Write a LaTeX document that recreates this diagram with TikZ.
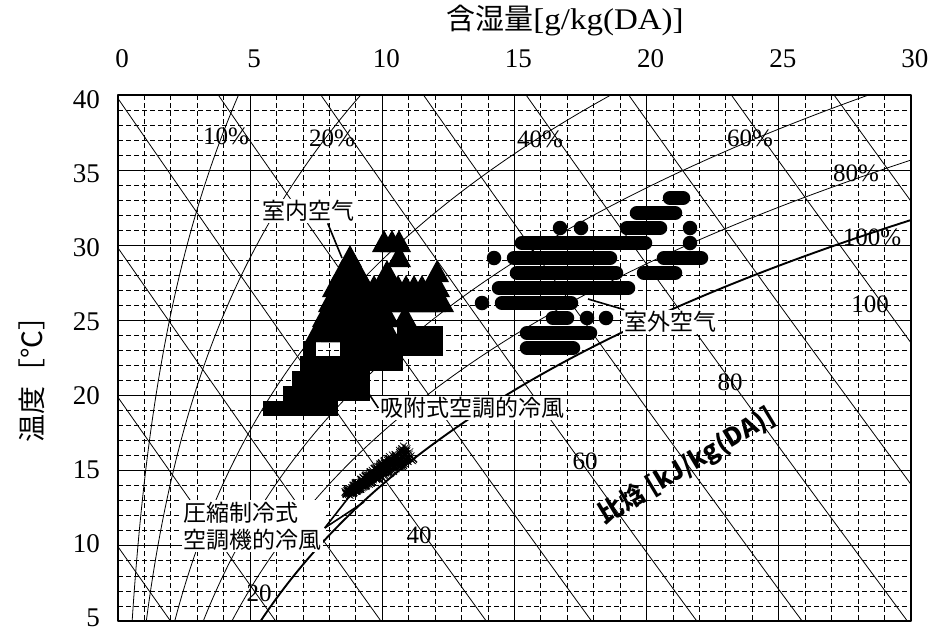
\documentclass[tikz,border=0pt]{standalone}
\usepackage{fontspec}
\setmainfont{Liberation Serif}
\newfontfamily\cjk{Noto Sans CJK JP}
\newcommand\tri[2]{\fill (#1-12,#2+9) -- (#1+12,#2+9) -- (#1,#2-13) -- cycle;}
\begin{document}
\begin{tikzpicture}[x=1pt,y=-1pt,line join=round,
  declare function={
    ps(\t)=0.61094*exp(17.625*\t/(\t+243.04));
    wr(\t,\p)=622*\p*ps(\t)/(101.325-\p*ps(\t));
    px(\w)=118+26.43*\w;
    py(\t)=696.15-15.03*\t;
  },
  gdash/.style={line width=0.8pt,dash pattern=on 5pt off 3pt},
  gsolid/.style={line width=1.1pt},
  chl/.style={line width=0.8pt},
  sat/.style={line width=1.9pt},
  tick/.style={font=\fontsize{27}{27}\selectfont,inner sep=0pt},
  pct/.style={font=\fontsize{25}{25}\selectfont,inner sep=0pt},
  ann/.style={font=\cjk\fontsize{23}{27}\selectfont,fill=white,inner sep=1.5pt,align=left},
  lead/.style={line width=1.6pt},
  crow/.style={line width=14.5pt,line cap=round},
  xm/.style={line width=0.7pt}]
\useasboundingbox (0,0) rectangle (932,635);
\fill[white] (0,0) rectangle (932,635);
% grid
\foreach \w in {1,...,29}{
  \pgfmathtruncatemacro\m{mod(\w,5)}
  \ifnum\m=0 \draw[gsolid] ({px(\w)},95) -- ({px(\w)},621);
  \else \draw[gdash] ({px(\w)},95) -- ({px(\w)},621); \fi}
\foreach \t in {6,...,39}{
  \pgfmathtruncatemacro\m{mod(\t,5)}
  \ifnum\m=0 \draw[gsolid] (118,{py(\t)}) -- (911,{py(\t)});
  \else \draw[gdash] (118,{py(\t)}) -- (911,{py(\t)}); \fi}
% psychrometric lines
\begin{scope}
\clip (118,95) rectangle (911,621);
\foreach \p in {0.1,0.2,0.4,0.6,0.8}{
  \draw[chl] plot[domain=5:42,samples=60,smooth,variable=\t] ({px(wr(\t,\p))},{py(\t)});}
\draw[sat] plot[domain=5:33,samples=60,smooth,variable=\t] ({px(wr(\t,1))},{py(\t)});
\foreach \h in {10,20,...,110}{
  \draw[chl] plot[domain=0:30,samples=7,smooth,variable=\w] ({px(\w)},{py((\h-2.501*\w)/(1.006+0.00186*\w))});}
\end{scope}
\draw[line width=2.8pt] (118,95) rectangle (911,621);
% axis labels
\foreach \w in {0,5,...,30}{\node[tick] (tx\w) at ({px(\w)+4},59) {\w};}
\foreach \t in {5,10,...,40}{\node[tick,anchor=east] (ty\t) at (100,{100+(40-\t)*14.8}) {\t};}
\node[inner sep=0pt] (xtitle) at (565,21) {{\cjk\fontsize{29}{29}\selectfont 含湿量}\scalebox{1.1}[1]{\fontsize{30}{30}\selectfont[g/kg(DA)]}};
\node[inner sep=0pt,rotate=90] (ytitle) at (32,372) {\cjk\fontsize{28}{28}\selectfont 温度［℃］};
% RH and enthalpy labels
\node[pct] (r10) at (226,136) {10\%};
\node[pct] (r20) at (332,138) {20\%};
\node[pct] (r40) at (540,139) {40\%};
\node[pct] (r60) at (750,138) {60\%};
\node[pct] (r80) at (856,173) {80\%};
\node[pct] (r100) at (872,237) {100\%};
\node[pct] (h20) at (259,593) {20};
\node[pct] (h40) at (419,535) {40};
\node[pct] (h60) at (585,461) {60};
\node[pct] (h80) at (730,382) {80};
\node[pct] (h100) at (870,304) {100};
\node[rotate=31,inner sep=0pt,font=\cjk\bfseries\fontsize{25}{25}\selectfont] (hunit) at (687,466) {比焓\ [kJ/kg(DA)]};
% squares (adsorption AC)
\fill (263,401) rectangle (338,416);
\fill (283,386) rectangle (370,401);
\fill (292,371) rectangle (370,386);
\fill (300,356) rectangle (403,371);
\fill (303,341) rectangle (316,356);
\fill (340,341) rectangle (443,356);
\fill (397,326) rectangle (443,341);
% triangles (indoor air)
\foreach \x in {384,392,399}{\tri{\x}{243}}
\foreach \x in {350,399}{\tri{\x}{258}}
\foreach \x in {342,350,358,387,437}{\tri{\x}{273}}
\foreach \x in {334,342,...,442}{\tri{\x}{288}}
\foreach \x in {330,338,...,442}{\tri{\x}{303}}
\foreach \x in {324,332,...,388}{\tri{\x}{318}}
\tri{405}{318}
\foreach \x in {317,325,...,389}{\tri{\x}{333}}
% circles (outdoor air)
\draw[crow] (670,198) -- (683,198);
\draw[crow] (637,213) -- (675,213);
\fill (560,228) circle (7.25) (581,228) circle (7.25) (690,228) circle (7.25);
\draw[crow] (627,228) -- (660,228);
\draw[crow] (522,243) -- (645,243);
\fill (690,243) circle (7.25);
\fill (494,258) circle (7.25);
\draw[crow] (514,258) -- (610,258);
\draw[crow] (664,258) -- (701,258);
\draw[crow] (517,273) -- (616,273);
\draw[crow] (644,273) -- (675,273);
\draw[crow] (499,288) -- (628,288);
\fill (482,303) circle (7.25);
\draw[crow] (502,303) -- (571,303);
\draw[crow] (553,318) -- (567,318);
\fill (587,318) circle (7.25) (606,318) circle (7.25);
\draw[crow] (527,333) -- (590,333);
\draw[crow] (527,348) -- (573,348);
% crosses (compression AC)
\pgfmathsetseed{7}
\foreach \i in {1,...,420}{
  \pgfmathsetmacro\u{rnd}
  \pgfmathsetmacro\v{rand*(3+6*\u)}
  \pgfmathsetmacro\cx{346+64*\u+0.552*\v}
  \pgfmathsetmacro\cy{494-42*\u+0.834*\v}
  \draw[xm] ({\cx-3.5},{\cy-3.5}) -- ({\cx+3.5},{\cy+3.5}) ({\cx-3.5},{\cy+3.5}) -- ({\cx+3.5},{\cy-3.5});}
% annotation labels
\node[ann] (indoor) at (308,211) {室内空气};
\node[ann] (outdoor) at (670,322) {室外空气};
\node[ann] (adsorb) at (472,408) {吸附式空調的冷風};
\node[ann] (comp) at (252,526) {圧縮制冷式\\空調機的冷風};
\coordinate (pin) at (342,258);
\coordinate (pout) at (588,299);
\coordinate (pads) at (369,394);
\coordinate (pc1) at (349,497);
\coordinate (pc2) at (364,502);
\draw[lead] (indoor.south east) ++(-28,0) -- (pin);
\draw[lead] (outdoor.north west) ++(2,0) -- (pout);
\draw[lead] (adsorb.west) -- (pads);
\draw[lead] (comp.east) ++(2,2) -- (pc1);
\draw[lead] (comp.east) ++(2,2) -- (pc2);
\end{tikzpicture}
\end{document}
